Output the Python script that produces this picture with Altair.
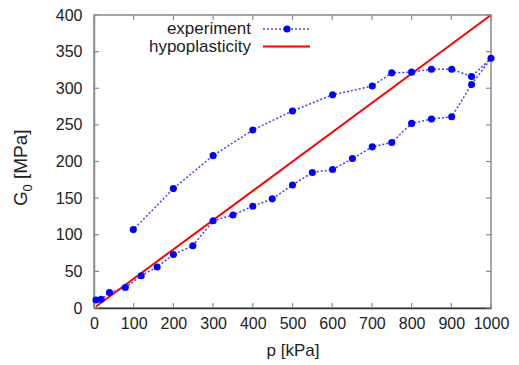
import altair as alt
import pandas as pd

# Experiment: loading path then unloading path (p [kPa], G0 [MPa])
exp_p = [5, 18, 39, 79, 119, 159, 200, 249, 300, 350, 400, 449, 500, 550, 601, 651, 701, 750, 800, 850, 901, 951, 1000,
         951, 901, 850, 800, 750, 701, 601, 500, 400, 300, 200, 99]
exp_g = [11, 12, 21, 28, 44, 56, 73, 85, 119, 127, 139, 149, 168, 185, 189, 204, 220, 226, 252, 258, 261, 305, 341,
         316, 326, 326, 322, 321, 303, 291, 269, 243, 208, 163, 107]

# Hypoplasticity line
hyp_p = [5, 1000]
hyp_g = [2, 400]

x_ticks = [0, 100, 200, 300, 400, 500, 600, 700, 800, 900, 1000]
y_ticks = [0, 50, 100, 150, 200, 250, 300, 350, 400]
legend_labels = ["experiment", "hypoplasticity"]
y_title_parts = ["G", "0", "[MPa]"]

W, H = 397, 293
FONT = "Liberation Sans"
BLUE = "#0000ff"
RED = "#ff0000"
FRAME = "#8c8c8c"
TXT = "#222222"

exp_df = pd.DataFrame({"p": exp_p, "g": exp_g, "i": list(range(len(exp_p)))})
hyp_df = pd.DataFrame({"p": hyp_p, "g": hyp_g})
xt_df = pd.DataFrame({"p": x_ticks})
yt_df = pd.DataFrame({"g": y_ticks})

xscale = alt.Scale(domain=[0, 1000], nice=False, zero=False)
yscale = alt.Scale(domain=[0, 400], nice=False, zero=False)

xaxis = alt.Axis(values=x_ticks, tickSize=0, grid=False, labelFont=FONT, labelFontSize=16,
                 labelColor=TXT, labelPadding=7, title="p [kPa]", titleFont=FONT,
                 titleFontSize=17, titleFontWeight="normal", titleColor=TXT, titlePadding=11,
                 domainColor="#333333", domainWidth=1.5, labelFlush=False, format="d")
yaxis = alt.Axis(values=y_ticks, tickSize=0, grid=False, labelFont=FONT, labelFontSize=16,
                 labelColor=TXT, labelPadding=12, title=None,
                 domainColor=FRAME, domainWidth=1.5, labelFlush=False, format="d")

X = alt.X("p:Q", scale=xscale, axis=xaxis, title="p [kPa]")
Y = alt.Y("g:Q", scale=yscale, axis=yaxis, title=None)

hyp = alt.Chart(hyp_df).mark_line(color=RED, strokeWidth=2).encode(x=X, y=Y)

exp_line = alt.Chart(exp_df).mark_line(color="#4040ff", strokeWidth=1.5, strokeDash=[2, 2]).encode(
    x=X, y=Y, order="i:Q")
exp_pts = alt.Chart(exp_df).mark_circle(color=BLUE, size=50, opacity=1).encode(x=X, y=Y)

tick_style = dict(color=FRAME, strokeWidth=1.2)
xt_bottom = alt.Chart(xt_df).mark_rule(**tick_style).encode(x=X, y=alt.value(H), y2=alt.value(H - 5))
xt_top = alt.Chart(xt_df).mark_rule(**tick_style).encode(x=X, y=alt.value(0), y2=alt.value(5))
yt_left = alt.Chart(yt_df).mark_rule(**tick_style).encode(y=Y, x=alt.value(0), x2=alt.value(5))
yt_right = alt.Chart(yt_df).mark_rule(**tick_style).encode(y=Y, x=alt.value(W), x2=alt.value(W - 5))

# Y-axis title with subscript, drawn as rotated text pieces
yt_df_title = pd.DataFrame({"t": y_title_parts})
rot = dict(angle=270, align="left", baseline="alphabetic", font=FONT, color=TXT)
ytitle_g = alt.Chart(yt_df_title.iloc[[0]]).mark_text(fontSize=19, **rot).encode(
    text="t:N", x=alt.value(-67), y=alt.value(191))
ytitle_0 = alt.Chart(yt_df_title.iloc[[1]]).mark_text(fontSize=13, **rot).encode(
    text="t:N", x=alt.value(-62), y=alt.value(176.5))
ytitle_u = alt.Chart(yt_df_title.iloc[[2]]).mark_text(fontSize=19, **rot).encode(
    text="t:N", x=alt.value(-67), y=alt.value(164))

# Legend (inside, top-left, gnuplot style: label then sample)
leg_df = pd.DataFrame({"label": legend_labels})
text_style = dict(align="right", baseline="middle", font=FONT, fontSize=17, color=TXT)
leg_text1 = alt.Chart(leg_df.iloc[[0]]).mark_text(**text_style).encode(
    text="label:N", x=alt.value(157), y=alt.value(14))
leg_text2 = alt.Chart(leg_df.iloc[[1]]).mark_text(**text_style).encode(
    text="label:N", x=alt.value(157), y=alt.value(31.5))
leg_exp_line = alt.Chart(leg_df.iloc[[0]]).mark_rule(color="#4040ff", strokeWidth=1.5, strokeDash=[2, 2]).encode(
    x=alt.value(169), x2=alt.value(216), y=alt.value(14))
leg_exp_pt = alt.Chart(leg_df.iloc[[0]]).mark_circle(color=BLUE, size=50, opacity=1).encode(
    x=alt.value(193), y=alt.value(14))
leg_hyp_line = alt.Chart(leg_df.iloc[[1]]).mark_rule(color=RED, strokeWidth=2).encode(
    x=alt.value(169), x2=alt.value(216), y=alt.value(31.5))

chart = alt.layer(
    hyp, exp_line, exp_pts, xt_bottom, xt_top, yt_left, yt_right,
    ytitle_g, ytitle_0, ytitle_u,
    leg_text1, leg_text2, leg_exp_line, leg_exp_pt, leg_hyp_line,
).properties(
    width=W, height=H,
    autosize=alt.AutoSizeParams(type="none"),
    padding={"left": 94, "top": 15, "right": 28, "bottom": 57},
    background="white",
).configure_view(stroke=FRAME, strokeWidth=1.5)

chart.save("out.html", embed_options={"renderer": "svg", "actions": False})
